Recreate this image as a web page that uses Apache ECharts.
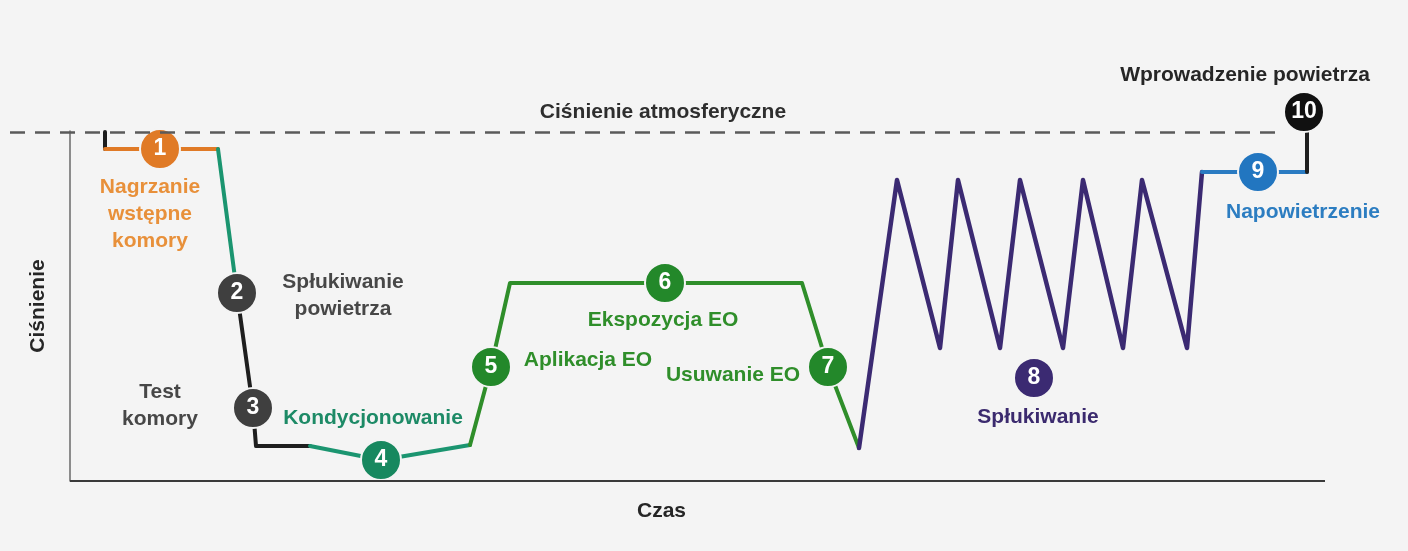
<!DOCTYPE html>
<html>
<head>
<meta charset="utf-8">
<title>Cykl sterylizacji EO</title>
<script src="https://cdn.jsdelivr.net/npm/echarts@6/dist/echarts.min.js"></script>
<style>
  html, body { margin: 0; padding: 0; background: #f4f4f4; }
  #chart { width: 1408px; height: 551px; }
</style>
</head>
<body>
<div id="chart"></div>
<script>
// time / pressure in arbitrary units (0 = axis, 349 = atmospheric pressure)
const atmLevel = 349
const startSeg = [[35, 349], [35, 332]]
const preheatSeg = [[35, 332], [148, 332]]
const evacSeg = [[148, 332], [167, 188]]
const leakSeg = [[167, 188], [183, 73], [186, 35], [240, 35]]
const condSeg = [[240, 35], [311, 21], [400, 36]]
const eoSeg = [[400, 36], [421, 114], [440, 198], [732, 198], [758, 114], [789, 33]]
const washSeg = [[789, 33], [827, 301], [870, 133], [888, 301], [930, 133], [950, 301],
  [993, 133], [1013, 301], [1053, 133], [1072, 301], [1117, 133], [1132, 309]]
const airSeg = [[1132, 309], [1237, 309]]
const ventSeg = [[1237, 309], [1237, 369]]

const stepNos = ['1', '2', '3', '4', '5', '6', '7', '8', '9', '10']
const stepAt = [[90, 332], [167, 188], [183, 73], [311, 21], [421, 114],
  [595, 198], [758, 114], [964, 103], [1188, 309], [1234, 369]]

const captions = [
  'Nagrzanie\nwstępne\nkomory',
  'Spłukiwanie\npowietrza',
  'Test\nkomory',
  'Kondycjonowanie',
  'Aplikacja EO',
  'Ekspozycja EO',
  'Usuwanie EO',
  'Spłukiwanie',
  'Napowietrzenie',
  'Wprowadzenie powietrza',
  'Ciśnienie atmosferyczne'
]
// layout: where each caption sits
const captionAt = [[80, 267], [273, 185], [90, 75], [303, 63], [518, 121], [593, 161],
  [663, 106], [968, 64], [1233, 269], [1175, 406], [593, 369]]

const C = {
  orange: '#e07a26',
  orangeText: '#e8903a',
  teal: '#1b9570',
  green: '#2f8e2a',
  gray: '#3f3f3f',
  black: '#1e1e1e',
  purple: '#3b2a72',
  blue: '#2a7bc2'
}
const stepColors = [C.orange, C.gray, C.gray, '#17885f', '#23882a', '#23882a', '#23882a', C.purple, '#2276c0', '#111']
const captionColors = [C.orangeText, '#474747', '#474747', '#1d8a66', '#2f8e2a', '#2f8e2a', '#2f8e2a',
  '#3b2a6e', '#2c7dc1', '#262626', '#2e2e2e']

const FONT = '"Liberation Sans", Arial, sans-serif'

const seg = (data, color, width) => ({
  type: 'line',
  data: data,
  clip: false,
  symbol: 'none',
  z: 2,
  lineStyle: { color: color, width: width || 4, cap: 'round', join: 'round' },
  emphasis: { disabled: true },
  silent: true
})

const option = {
  backgroundColor: '#f4f4f4',
  animation: false,
  grid: { left: 10, right: 83, top: 131, bottom: 70, containLabel: false, outerBoundsMode: 'none' },
  xAxis: {
    type: 'value',
    min: -60,
    max: 1255,
    name: 'Czas',
    nameLocation: 'middle',
    nameGap: 20,
    nameTextStyle: { color: '#262626', fontSize: 21, fontWeight: 'bold', fontFamily: FONT, padding: [0, 12, 0, 0] },
    axisLine: { show: false },
    axisTick: { show: false },
    axisLabel: { show: false },
    splitLine: { show: false }
  },
  yAxis: {
    type: 'value',
    min: 0,
    max: 350,
    name: 'Ciśnienie',
    nameLocation: 'middle',
    nameRotate: 90,
    nameGap: -39,
    nameTextStyle: { color: '#262626', fontSize: 21, fontWeight: 'bold', fontFamily: FONT },
    axisLine: { show: true, onZero: true, lineStyle: { color: '#6a6a6a', width: 1.5 } },
    axisTick: { show: false },
    axisLabel: { show: false },
    splitLine: { show: false }
  },
  series: [
    {
      type: 'line',
      data: [],
      silent: true,
      markLine: {
        silent: true,
        symbol: 'none',
        label: { show: false },
        data: [
          [{ coord: [-60, atmLevel], lineStyle: { color: '#5a5a5a', width: 2.5, type: [15, 10] } }, { coord: [1208, atmLevel] }],
          [{ coord: [0, 0], lineStyle: { color: '#3a3a3a', width: 2, type: 'solid' } }, { coord: [1255, 0] }]
        ]
      }
    },
    seg(startSeg, C.black),
    seg(preheatSeg, C.orange),
    seg(evacSeg, C.teal),
    seg(leakSeg, C.black),
    seg(condSeg, C.teal),
    seg(eoSeg, C.green),
    seg(washSeg, C.purple, 4.5),
    seg(airSeg, C.blue),
    seg(ventSeg, C.black),
    {
      type: 'scatter',
      clip: false,
      silent: true,
      z: 3,
      symbolSize: 40,
      data: stepNos.map((n, i) => ({
        name: n,
        value: stepAt[i],
        itemStyle: { color: stepColors[i], opacity: 1, borderColor: '#f4f4f4', borderWidth: 2 }
      })),
      label: {
        show: true,
        position: 'inside',
        formatter: '{b}',
        color: '#fff',
        fontSize: 23,
        fontWeight: 'bold',
        fontFamily: FONT
      }
    },
    {
      type: 'scatter',
      clip: false,
      silent: true,
      z: 4,
      symbolSize: 0,
      itemStyle: { opacity: 1 },
      data: captions.map((t, i) => ({
        name: t,
        value: captionAt[i],
        label: { color: captionColors[i] }
      })),
      label: {
        show: true,
        position: 'inside',
        formatter: '{b}',
        align: 'center',
        verticalAlign: 'middle',
        fontSize: 21,
        lineHeight: 27,
        fontWeight: 'bold',
        fontFamily: FONT
      }
    }
  ]
}

const chart = echarts.init(document.getElementById('chart'))
chart.setOption(option)
window.addEventListener('resize', () => chart.resize())
</script>
</body>
</html>
